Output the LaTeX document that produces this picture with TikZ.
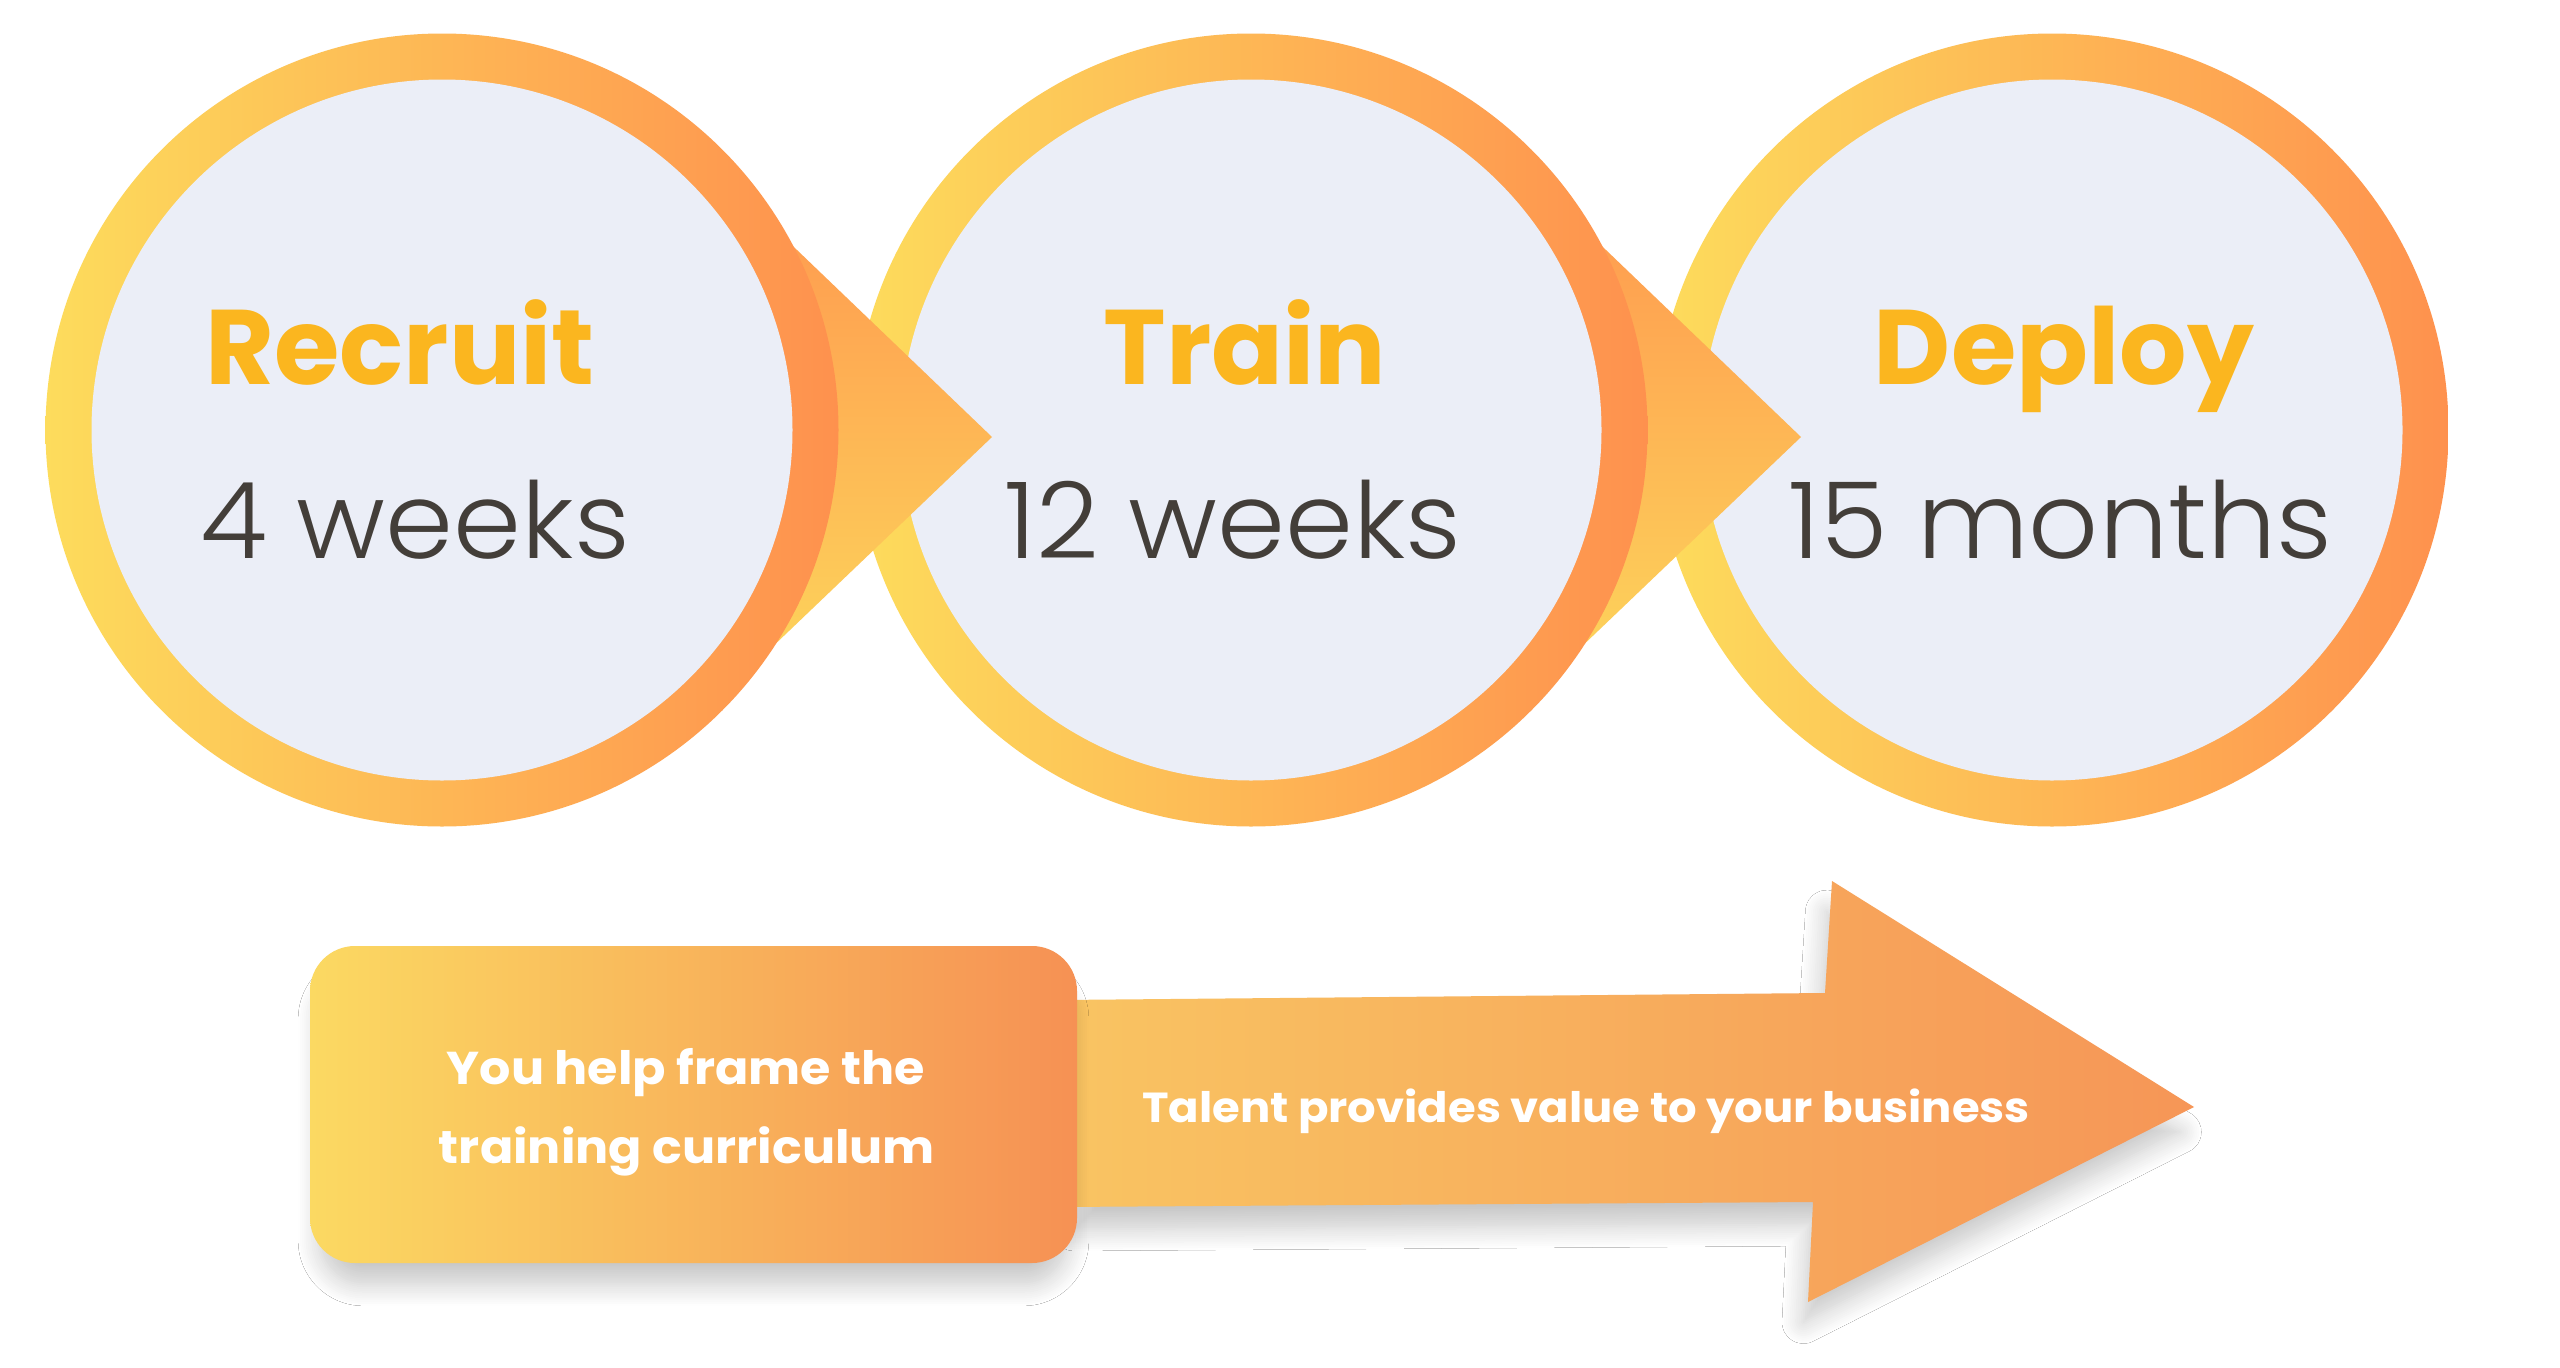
\documentclass[tikz,border=0pt]{standalone}
\usepackage{fontspec}
\setmainfont{Poppins}
\newfontfamily\lightfont[FakeStretch=1.03]{Poppins Light}
\newfontfamily\widefont[FakeStretch=1.07]{Poppins}
\usetikzlibrary{shadows.blur}
\definecolor{ringL}{HTML}{FDDC5C}
\definecolor{ringR}{HTML}{FE914E}
\definecolor{innerc}{HTML}{EBEEF7}
\definecolor{titlec}{HTML}{FBB61F}
\definecolor{durc}{HTML}{433E39}
\definecolor{triT}{HTML}{FE944E}
\definecolor{triB}{HTML}{FDDA5C}
\definecolor{boxL}{HTML}{FBD962}
\definecolor{boxR}{HTML}{F69154}
\definecolor{arrL}{HTML}{F9C462}
\definecolor{arrR}{HTML}{F69657}
\begin{document}
\begin{tikzpicture}[x=1pt,y=-1pt,
  ring/.style={circle, minimum size=793pt, inner sep=0pt, draw=none, left color=ringL, right color=ringR},
  core/.style={circle, minimum size=701pt, inner sep=0pt, draw=none, fill=innerc},
  title/.style={font=\bfseries\fontsize{106}{110}\selectfont, text=titlec, anchor=base, inner sep=0pt},
  dur/.style={font=\lightfont\fontsize{106}{110}\selectfont, text=durc, anchor=base, inner sep=0pt},
  tri/.style={top color=triT, bottom color=triB, draw=none},
  soft/.style={blur shadow={shadow xshift=0pt, shadow yshift=-26pt, shadow scale=0.975, shadow blur radius=22pt, shadow blur steps=12, shadow opacity=22}},
  boxfill/.style={left color=boxL, right color=boxR, draw=none, rounded corners=45pt, minimum width=767pt, minimum height=317pt, inner sep=0pt},
  arrfill/.style={left color=arrL, right color=arrR, draw=none},
  wtext/.style={font=\widefont\bfseries\fontsize{46}{50}\selectfont, text=white, anchor=base, inner sep=0pt},
  atext/.style={font=\widefont\bfseries\fontsize{42}{45}\selectfont, text=white, anchor=base, inner sep=0pt}
]
\useasboundingbox[fill=white] (0,0) rectangle (2560,1368);

% circle 3 and arrow into it
\node[ring] (c3) at (2052,430) {};
\node[core] (c3in) at (c3) {};
\path[tri] (1509,157) -- (1801,437) -- (1509,716) -- cycle;
% circle 2 and arrow into it
\node[ring] (c2) at (1251,430) {};
\node[core] (c2in) at (c2) {};
\path[tri] (700,157) -- (992,437) -- (700,716) -- cycle;
% circle 1
\node[ring] (c1) at (442,430) {};
\node[core] (c1in) at (c1) {};

\node[title] (t1) at (400,384) {Recruit};
\node[dur]   (d1) at (415,558) {4 weeks};
\node[title] (t2) at (1245,384) {Train};
\node[dur]   (d2) at (1233,558) {12 weeks};
\node[title] (t3) at (2064,384) {Deploy};
\node[dur]   (d3) at (2060,558) {15 months};

% big arrow
\path[arrfill, soft] (1060,1000) -- (1825,993) -- (1832,881) -- (2194,1107) -- (1808,1302) -- (1813,1202) -- (1060,1207) -- cycle;
\node[atext] (talent) at (1586,1122) {Talent provides value to your business};

% rounded box
\node[boxfill, soft] (frame) at (693.5,1104.5) {};
\node[wtext] (f1) at (686,1084) {You help frame the};
\node[wtext] (f2) at (687,1163) {training curriculum};
\end{tikzpicture}
\end{document}
